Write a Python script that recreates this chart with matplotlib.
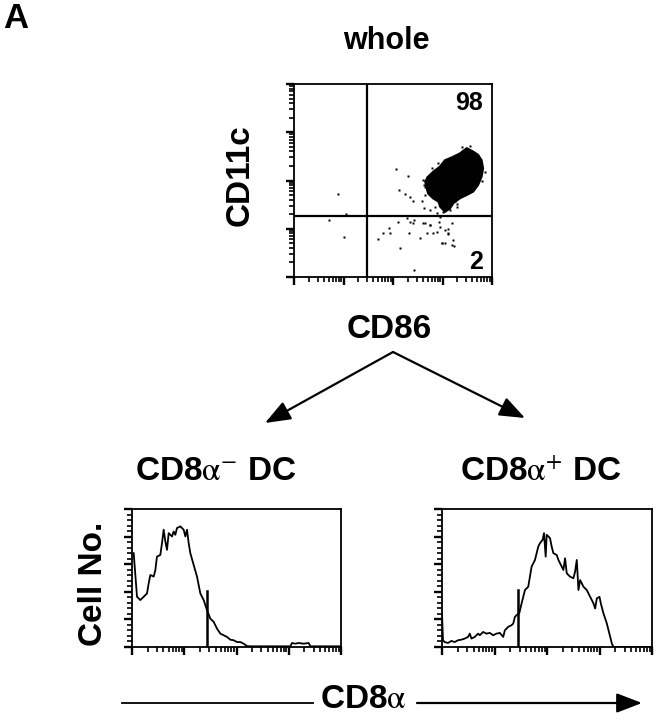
import numpy as np
import matplotlib.pyplot as plt
from matplotlib import ticker

plt.rcParams['font.family'] = ['Liberation Sans', 'DejaVu Sans']
plt.rcParams['mathtext.fontset'] = 'stix'

# --- whole population: CD86 (x) vs CD11c (y), values in log10 decades ---
cd86_gate = 1.47
cd11c_gate = 1.26
pct_upper = "98"
pct_lower = "2"

# outline of the dense cluster
blob_x = [3.49, 3.35, 3.19, 3.05, 2.95, 2.81, 2.71, 2.65, 2.68, 2.71, 2.81, 2.92,
          2.95, 3.05, 3.15, 3.22, 3.35, 3.49, 3.62, 3.72, 3.79, 3.82, 3.79, 3.72, 3.62]
blob_y = [2.67, 2.56, 2.48, 2.42, 2.29, 2.18, 2.08, 1.98, 1.84, 1.73, 1.63, 1.56,
          1.46, 1.35, 1.42, 1.53, 1.63, 1.70, 1.77, 1.91, 2.08, 2.25, 2.42, 2.53, 2.60]

# single events outside the cluster
dots_x = [2.07, 2.31, 2.13, 2.24, 2.34, 2.40, 2.58, 2.63, 2.68, 2.65, 0.88, 1.05,
          0.71, 1.00, 1.70, 1.79, 1.91, 2.15, 2.33, 2.34, 2.40, 2.43, 2.55, 2.65,
          2.68, 2.75, 2.81, 2.88, 2.92, 2.98, 3.05, 3.12, 3.12, 3.19, 3.24, 2.42,
          2.11, 2.88, 3.02, 2.95, 2.28, 1.94, 2.61, 2.75, 2.95, 3.05, 3.12, 2.98,
          3.19, 3.22, 2.75, 2.85, 3.15, 3.29, 3.49, 3.69, 3.76, 3.72, 2.68, 2.65,
          2.60, 2.62, 3.85, 3.80, 3.56, 3.40, 3.26, 2.90, 2.78, 3.30]
dots_y = [2.23, 2.09, 1.80, 1.72, 1.66, 1.58, 1.58, 1.42, 1.94, 1.70, 1.72, 1.31,
          1.18, 0.82, 0.78, 0.91, 1.01, 0.61, 0.91, 1.15, 1.11, 1.18, 0.80, 1.11,
          0.91, 1.08, 0.91, 0.94, 1.15, 0.70, 0.70, 0.99, 0.91, 1.11, 0.65, 0.15,
          1.15, 1.32, 1.35, 1.25, 1.22, 0.91, 1.11, 1.08, 1.04, 0.97, 0.90, 0.70,
          0.66, 0.77, 1.39, 1.46, 1.39, 1.46, 2.63, 2.36, 2.22, 2.01, 2.08, 1.87,
          2.02, 1.90, 2.18, 1.98, 2.72, 2.70, 1.58, 2.36, 2.25, 1.52]

# --- CD8a histograms: x in log10 decades, y in % of axis height ---
neg_x = [0.032, 0.096, 0.159, 0.223, 0.287, 0.319, 0.351, 0.415, 0.447, 0.478,
         0.542, 0.574, 0.606, 0.638, 0.670, 0.702, 0.766, 0.797, 0.829, 0.861,
         0.925, 0.989, 1.021, 1.053, 1.085, 1.116, 1.180, 1.244, 1.308, 1.372,
         1.435, 1.499, 1.563, 1.627, 1.691, 1.754, 1.818, 1.882, 1.946, 2.010,
         2.073, 2.137, 2.201, 2.265, 3.030, 3.062, 3.126, 3.190, 3.285, 3.381,
         3.413, 4.0]
neg_y = [68.0, 36.4, 34.0, 36.4, 38.8, 46.1, 52.2, 51.0, 55.8, 65.5,
         66.7, 75.2, 85.0, 76.5, 70.4, 82.5, 80.1, 83.7, 81.3, 86.2,
         87.4, 85.0, 80.1, 85.0, 75.2, 68.0, 59.5, 51.0, 38.8, 34.0,
         26.7, 20.6, 18.2, 13.3, 9.7, 8.5, 7.3, 5.3, 4.9, 3.6,
         3.6, 2.4, 0.7, 0.5, 0.5, 2.9, 2.4, 2.9, 2.4, 2.9,
         0.5, 0.5]

pos_x = [0.0, 0.019, 0.051, 0.115, 0.178, 0.242, 0.306, 0.369, 0.433, 0.497,
         0.529, 0.561, 0.624, 0.688, 0.720, 0.783, 0.847, 0.911, 0.975, 1.038,
         1.102, 1.166, 1.197, 1.261, 1.325, 1.357, 1.389, 1.420, 1.471, 1.516,
         1.548, 1.580, 1.643, 1.675, 1.707, 1.771, 1.803, 1.834, 1.866, 1.917,
         1.943, 1.975, 1.994, 2.057, 2.089, 2.121, 2.185, 2.217, 2.248, 2.280,
         2.312, 2.344, 2.376, 2.439, 2.503, 2.535, 2.567, 2.599, 2.631, 2.694,
         2.758, 2.790, 2.854, 2.885, 2.917, 2.949, 3.000, 3.025, 3.076, 3.140,
         3.172, 3.204, 3.236, 3.268, 4.0]
pos_y = [24.3, 4.9, 3.6, 2.9, 4.4, 3.6, 4.9, 5.3, 6.1, 7.3,
         9.7, 6.1, 7.3, 9.7, 8.5, 10.9, 9.7, 10.2, 8.5, 9.7,
         10.2, 7.3, 12.1, 14.6, 15.8, 17.0, 21.8, 23.1, 24.3, 31.6,
         36.4, 41.3, 43.7, 51.0, 58.3, 63.1, 68.0, 72.8, 75.2, 77.7,
         82.5, 65.5, 81.3, 78.9, 72.8, 68.0, 66.7, 63.1, 60.7, 58.3,
         55.8, 64.3, 53.4, 51.0, 49.8, 54.6, 63.1, 41.3, 48.5, 43.7,
         41.3, 38.8, 34.0, 31.6, 27.9, 35.2, 36.4, 31.6, 24.3, 17.0,
         12.1, 7.3, 2.4, 0.0, 0.0]

marker_x = 1.44
neg_marker_h = 40.6
pos_marker_h = 41.3

W, H = 656, 720
fig = plt.figure(figsize=(W / 100, H / 100), dpi=100)


def frac(left, top, right, bottom):
    return [left / W, 1 - bottom / H, (right - left) / W, (bottom - top) / H]


def log_ticks(axis):
    axis.set_major_locator(ticker.LogLocator(base=10, numticks=10))
    axis.set_minor_locator(ticker.LogLocator(base=10, subs=np.arange(2, 10), numticks=50))
    axis.set_major_formatter(ticker.NullFormatter())
    axis.set_minor_formatter(ticker.NullFormatter())


def style(ax):
    for s in ax.spines.values():
        s.set_linewidth(1.3)
    ax.tick_params(which='major', direction='out', length=6, width=1.7,
                   top=False, right=False, labelbottom=False, labelleft=False)
    ax.tick_params(which='minor', direction='out', length=3.5, width=1.2,
                   top=False, right=False)


# scatter plot
ax = fig.add_axes(frac(294, 84, 492, 277))
ax.set_xscale('log')
ax.set_yscale('log')
ax.set_xlim(1, 1e4)
ax.set_ylim(1, 1e4)
log_ticks(ax.xaxis)
log_ticks(ax.yaxis)
style(ax)
ax.fill(10 ** np.array(blob_x), 10 ** np.array(blob_y), color='black', lw=1.5)
ax.plot(10 ** np.array(dots_x), 10 ** np.array(dots_y), 's', color='black', ms=1.8, mec='none')
ax.axvline(10 ** cd86_gate, color='black', lw=1.6)
ax.axhline(10 ** cd11c_gate, color='black', lw=1.6)
ax.text(0.955, 0.9, pct_upper, transform=ax.transAxes, ha='right', va='center',
        fontsize=18, fontweight='bold')
ax.text(0.955, 0.08, pct_lower, transform=ax.transAxes, ha='right', va='center',
        fontsize=18, fontweight='bold')

# histograms
for box, hx, hy, mh in [((132, 509, 341, 647), neg_x, neg_y, neg_marker_h),
                        ((442, 509, 652, 647), pos_x, pos_y, pos_marker_h)]:
    hax = fig.add_axes(frac(*box))
    hax.set_xscale('log')
    hax.set_xlim(1, 1e4)
    hax.set_ylim(0, 100)
    log_ticks(hax.xaxis)
    hax.yaxis.set_major_locator(ticker.MultipleLocator(20))
    hax.yaxis.set_minor_locator(ticker.MultipleLocator(4))
    hax.yaxis.set_major_formatter(ticker.NullFormatter())
    style(hax)
    hax.plot(10 ** np.array(hx), hy, color='black', lw=1.3)
    hax.plot([10 ** marker_x, 10 ** marker_x], [0, mh], color='black', lw=1.8)

# labels and arrows in pixel coordinates
ov = fig.add_axes([0, 0, 1, 1], zorder=-1)
ov.set_xlim(0, W)
ov.set_ylim(H, 0)
ov.axis('off')

bold = dict(fontweight='bold', color='black')
ov.text(3, 2, 'A', ha='left', va='top', fontsize=25, **bold)
ov.text(386, 41, 'whole', ha='center', va='center', fontsize=22, **bold)
ov.text(240, 175, 'CD11c', ha='center', va='center', rotation=90, fontsize=24, **bold)
ov.text(389, 330, 'CD86', ha='center', va='center', fontsize=24, **bold)
ov.text(216, 472, r'CD8$\mathrm{\alpha}^{-}$ DC', ha='center', va='center', fontsize=24, **bold)
ov.text(541, 472, r'CD8$\mathrm{\alpha}^{+}$ DC', ha='center', va='center', fontsize=24, **bold)
ov.text(93, 584, 'Cell No.', ha='center', va='center', rotation=90, fontsize=24, **bold)
ov.text(363, 700, r'CD8$\mathrm{\alpha}$', ha='center', va='center', fontsize=24, **bold)

arrow = dict(arrowstyle='-|>,head_length=0.65,head_width=0.25', color='black',
             lw=1.6, mutation_scale=24, shrinkA=0, shrinkB=0)
ov.annotate('', xy=(265, 423), xytext=(393, 352), arrowprops=arrow)
ov.annotate('', xy=(525, 418), xytext=(393, 352), arrowprops=arrow)
ov.plot([122, 313], [703, 703], color='black', lw=1.3)
ov.annotate('', xy=(642, 703), xytext=(417, 703), arrowprops=arrow)

fig.savefig('out.png', dpi=100)
